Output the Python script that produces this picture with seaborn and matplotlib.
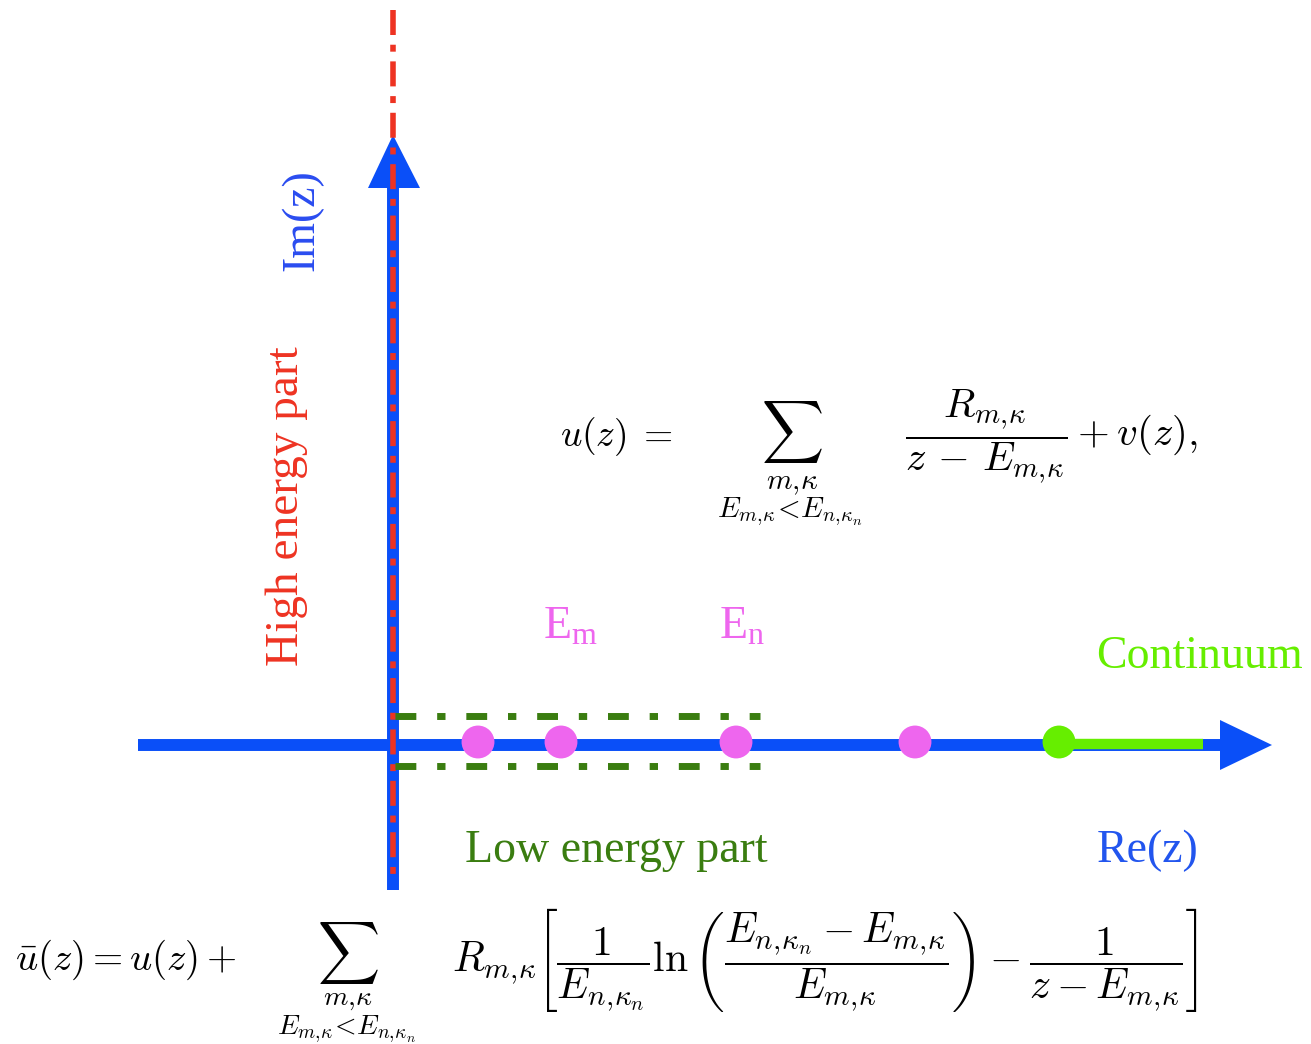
import matplotlib
matplotlib.use("Agg")
import matplotlib.pyplot as plt
import seaborn as sns
import pandas as pd

sns.set_theme(style="white")
plt.rcParams['font.family'] = ['Liberation Serif', 'DejaVu Serif']
plt.rcParams['mathtext.fontset'] = 'cm'
plt.rcParams['lines.scale_dashes'] = False

# ---- data (diagram coordinates in pixel space) ----
origin = (393, 745)
real_axis_x = [138, 1225]
imag_axis_y = [890, 185]
red_line_y = [10, 880]
box_x = [395, 760]
box_y = [716, 766]
pole_x = [478, 561, 736, 915]
pole_y = [742, 742, 742, 742]
cont_x = [1059, 1203]
cont_y = 744
re_arrow = [(1220, 720), (1272, 745), (1220, 770)]
im_arrow = [(368, 188), (393, 135), (420, 188)]

BLUE = "#0a4ff8"
RED = "#ee3322"
MAG = "#ee66ee"
LGREEN = "#66ee00"
DGREEN = "#3a7d10"

fig = plt.figure(figsize=(13.11, 10.44), dpi=100)
ax = fig.add_axes([0, 0, 1, 1])

# axes lines
ax.plot(real_axis_x, [origin[1]] * 2, color=BLUE, lw=8.6, solid_capstyle="butt", zorder=2)
ax.plot([origin[0]] * 2, imag_axis_y, color=BLUE, lw=8.6, solid_capstyle="butt", zorder=2)
ax.fill([p[0] for p in re_arrow], [p[1] for p in re_arrow], color=BLUE, zorder=2, lw=0)
ax.fill([p[0] for p in im_arrow], [p[1] for p in im_arrow], color=BLUE, zorder=2, lw=0)

# red dash-dot along imaginary axis
ax.plot([origin[0]] * 2, red_line_y, color=RED, lw=4.0,
        linestyle=(0, (18, 7, 5, 7)), zorder=3)

# green dash-dot box (top and bottom)
for yy in box_y:
    ax.plot(box_x, [yy, yy], color=DGREEN, lw=5.0,
            linestyle=(0, (15, 15, 6, 15)), zorder=3)

# continuum
ax.plot(cont_x, [cont_y, cont_y], color=LGREEN, lw=7.5, solid_capstyle="butt", zorder=3)

df_poles = pd.DataFrame({"x": pole_x, "y": pole_y})
sns.scatterplot(data=df_poles, x="x", y="y", ax=ax, color=MAG, s=560,
                edgecolor="none", zorder=4, legend=False)
df_c = pd.DataFrame({"x": [cont_x[0]], "y": [cont_y - 2]})
sns.scatterplot(data=df_c, x="x", y="y", ax=ax, color=LGREEN, s=560,
                edgecolor="none", zorder=4, legend=False)
ax.set_xlim(0, 1311)
ax.set_ylim(1044, 0)
ax.set_xlabel("")
ax.set_ylabel("")
ax.axis("off")

# labels
fs = 33
ax.text(302, 220, "Im(z)", color="#2a4cf0", fontsize=fs, rotation=90,
        ha="center", va="center")
ax.text(287, 506, "High energy part", color=RED, fontsize=fs + 1, rotation=90,
        ha="center", va="center")
ax.text(570, 627, r"$\mathregular{E_m}$", color=MAG, fontsize=fs, ha="center", va="center")
ax.text(742, 627, r"$\mathregular{E_n}$", color=MAG, fontsize=fs, ha="center", va="center")
ax.text(1200, 657, "Continuum", color=LGREEN, fontsize=fs, ha="center", va="center")
ax.text(616, 851, "Low energy part", color=DGREEN, fontsize=fs, ha="center", va="center")
ax.text(1148, 851, "Re(z)", color="#2255ee", fontsize=fs, ha="center", va="center")

# formula 1
mfs = 27
sub_fs = 21
ax.text(560, 437, r"$u(z)\;=$", fontsize=mfs, ha="left", va="center", color="black")
ax.text(792, 432, r"$\sum$", fontsize=mfs * 1.15, ha="center", va="center", color="black")
ax.text(792, 484, r"$m,\!\kappa$", fontsize=sub_fs, ha="center", va="center", color="black")
ax.text(790, 512, r"$E_{m,\!\kappa}\!<\!E_{n,\!\kappa_n}$", fontsize=sub_fs,
        ha="center", va="center", color="black")
ax.text(905, 437, r"$\dfrac{R_{m,\!\kappa}}{z\,-\,E_{m,\!\kappa}}+v(z),$", fontsize=29.5,
        ha="left", va="center", color="black")

# formula 2
ax.text(15, 960, r"$\bar{u}(z)=u(z)+$", fontsize=mfs + 1, ha="left", va="center", color="black")
ax.text(348, 953, r"$\sum$", fontsize=mfs * 1.15, ha="center", va="center", color="black")
ax.text(348, 1000, r"$m,\!\kappa$", fontsize=20, ha="center", va="center", color="black")
ax.text(346, 1029, r"$E_{m,\!\kappa}\!<\!E_{n,\!\kappa_n}$", fontsize=20,
        ha="center", va="center", color="black")
ax.text(452, 960,
        r"$R_{m,\!\kappa}\left[\dfrac{1}{E_{n,\!\kappa_n}}\ln\left(\dfrac{E_{n,\!\kappa_n}-E_{m,\!\kappa}}{E_{m,\!\kappa}}\right)-\dfrac{1}{z-E_{m,\!\kappa}}\right]$",
        fontsize=30, ha="left", va="center", color="black")

fig.savefig("out.png", dpi=100)
